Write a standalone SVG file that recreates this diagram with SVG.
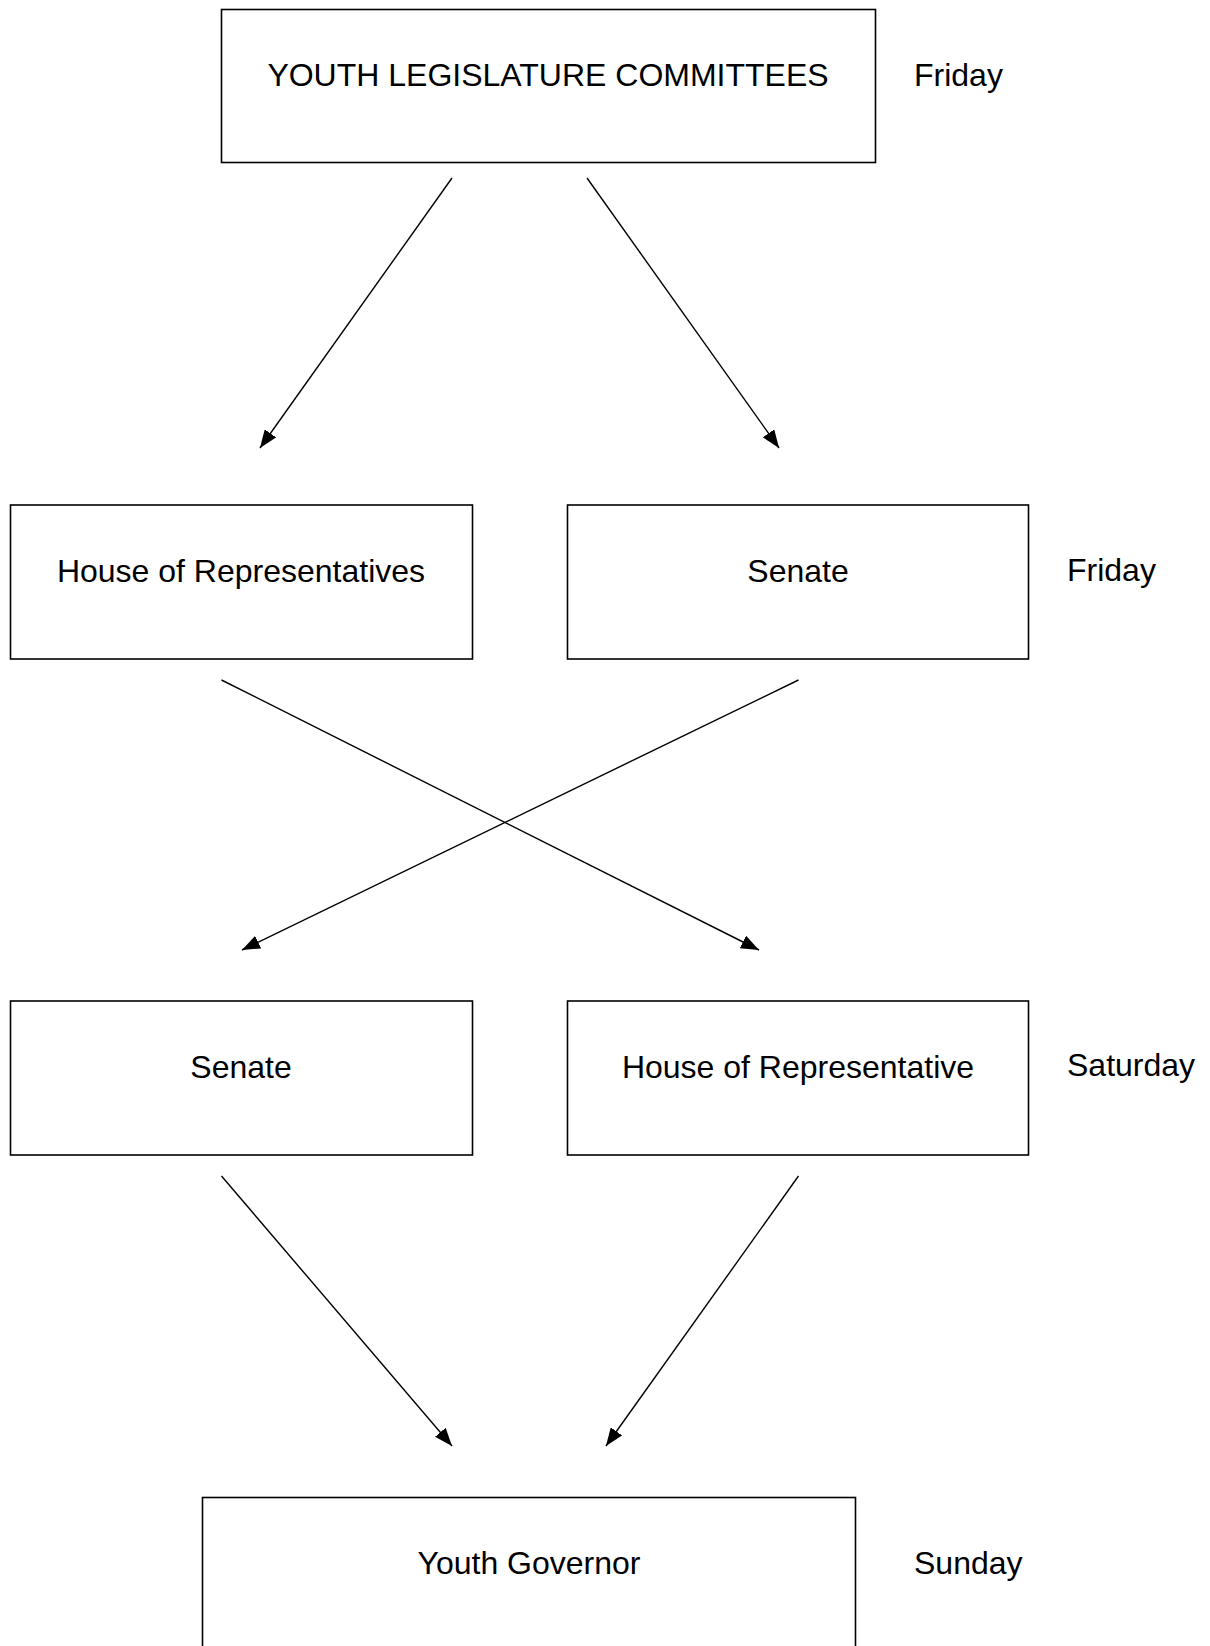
<svg xmlns="http://www.w3.org/2000/svg" width="1210" height="1646" viewBox="0 0 1210 1646">
<defs>
<style>
.box{fill:#fff;stroke:#000;stroke-width:1.6}
.t{font-family:"Liberation Sans",Arial,sans-serif;font-size:32px;fill:#000}
.c{text-anchor:middle}
.edge{stroke:#000;stroke-width:1.4;fill:none;marker-end:url(#arr)}
</style>
<marker id="arr" markerUnits="userSpaceOnUse" markerWidth="19" markerHeight="14" refX="18" refY="7" orient="auto">
<path d="M0,0 L18,7 L0,14 z" fill="#000"/>
</marker>
</defs>
<rect width="1210" height="1646" fill="#fff"/>
<g id="committees">
<rect class="box" x="221.5" y="9.5" width="654" height="153"/>
<text class="t c" x="548" y="86">YOUTH LEGISLATURE COMMITTEES</text>
</g>
<g id="label-friday-1"><text class="t" x="914" y="86">Friday</text></g>
<g id="house1">
<rect class="box" x="10.5" y="505" width="462" height="154"/>
<text class="t c" x="241" y="582">House of Representatives</text>
</g>
<g id="senate1">
<rect class="box" x="567.5" y="505" width="461" height="154"/>
<text class="t c" x="798" y="582">Senate</text>
</g>
<g id="label-friday-2"><text class="t" x="1067" y="581">Friday</text></g>
<g id="senate2">
<rect class="box" x="10.5" y="1001" width="462" height="154"/>
<text class="t c" x="241" y="1078">Senate</text>
</g>
<g id="house2">
<rect class="box" x="567.5" y="1001" width="461" height="154"/>
<text class="t c" x="798" y="1078">House of Representative</text>
</g>
<g id="label-saturday"><text class="t" x="1067" y="1076">Saturday</text></g>
<g id="governor">
<rect class="box" x="202.5" y="1497.5" width="653" height="170"/>
<text class="t c" x="529" y="1574">Youth Governor</text>
</g>
<g id="label-sunday"><text class="t" x="914" y="1574">Sunday</text></g>
<g id="connectors">
<line class="edge" x1="452" y1="178" x2="260" y2="448"/>
<line class="edge" x1="587" y1="178" x2="779" y2="448"/>
<line class="edge" x1="221.5" y1="680" x2="759" y2="950"/>
<line class="edge" x1="798.5" y1="680" x2="242" y2="950"/>
<line class="edge" x1="221.5" y1="1176" x2="452" y2="1446"/>
<line class="edge" x1="798.5" y1="1176" x2="606" y2="1446"/>
</g>
</svg>
